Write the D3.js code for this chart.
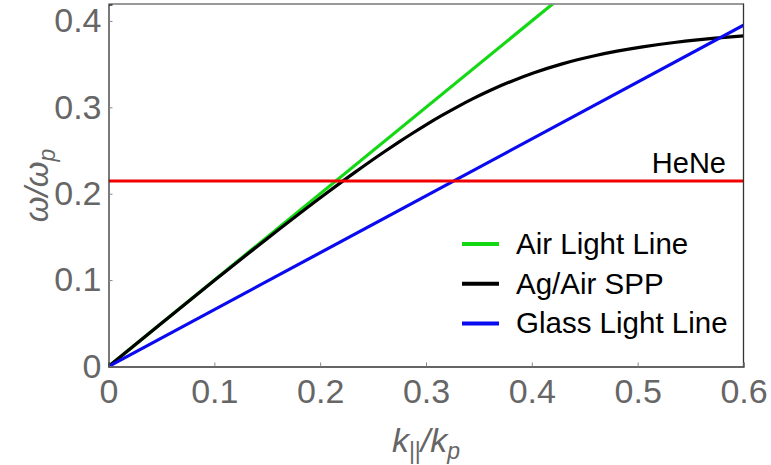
<!DOCTYPE html>
<html>
<head>
<meta charset="utf-8">
<script src="https://cdn.jsdelivr.net/npm/d3@7"></script>
<style>
  html, body { margin: 0; padding: 0; background: #fff; }
  svg { display: block; font-family: "Liberation Sans", Arial, sans-serif; }
</style>
</head>
<body>
<svg id="chart" width="771" height="465"></svg>
<script>
// Dispersion curves, frequency and wavevector in plasma units
const sppK = [0, 0.05006, 0.10053, 0.15195, 0.20523, 0.23312, 0.26238, 0.27462, 0.28727, 0.30043,
  0.31421, 0.32881, 0.34444, 0.36147, 0.38041, 0.40210, 0.42791, 0.44307, 0.46037, 0.48051,
  0.50463, 0.53454, 0.55648, 0.57339, 0.600];
const sppW = [0, 0.05, 0.10, 0.15, 0.20, 0.225, 0.25, 0.26, 0.27, 0.28,
  0.29, 0.30, 0.31, 0.32, 0.33, 0.34, 0.35, 0.355, 0.36, 0.365,
  0.37, 0.375, 0.378, 0.38, 0.3827];
const airK = [0, 0.6];
const airW = [0, 0.6];
const glassK = [0, 0.6];
const glassW = [0, 0.395];
const heneW = 0.2147;

const xTicks = [0, 0.1, 0.2, 0.3, 0.4, 0.5, 0.6];
const yTicks = [0, 0.1, 0.2, 0.3, 0.4];
const legendNames = ["Air Light Line", "Ag/Air SPP", "Glass Light Line"];
const legendColors = ["#14d814", "#000000", "#0a0af0"];

const svg = d3.select("#chart");
const pL = 108.5, pR = 743.5, pT = 4.5, pB = 366.5;
const x = d3.scaleLinear().domain([0, 0.6]).range([pL, pR]);
const y = d3.scaleLinear().domain([0, 0.419]).range([pB, pT]);

svg.append("defs").append("clipPath").attr("id", "plot")
  .append("rect").attr("x", pL).attr("y", pT)
  .attr("width", pR - pL).attr("height", pB - pT);

const plot = svg.append("g").attr("clip-path", "url(#plot)");
const line = d3.line().x(d => x(d[0])).y(d => y(d[1]));
const smooth = d3.line().x(d => x(d[0])).y(d => y(d[1])).curve(d3.curveMonotoneX);
const zip = (a, b) => a.map((v, i) => [v, b[i]]);

plot.append("path").datum(zip(airK, airW)).attr("d", line)
  .attr("fill", "none").attr("stroke", legendColors[0]).attr("stroke-width", 3.2);
plot.append("path").datum(zip(sppK, sppW)).attr("d", smooth)
  .attr("fill", "none").attr("stroke", legendColors[1]).attr("stroke-width", 3.2);
plot.append("path").datum(zip(glassK, glassW)).attr("d", line)
  .attr("fill", "none").attr("stroke", legendColors[2]).attr("stroke-width", 3.2);
plot.append("path").datum([[0, heneW], [0.6, heneW]]).attr("d", line)
  .attr("fill", "none").attr("stroke", "#f00000").attr("stroke-width", 3.2);

// Frame
svg.append("line").attr("x1", pL).attr("x2", pR).attr("y1", pT - 0.5).attr("y2", pT - 0.5)
  .attr("stroke", "#777").attr("stroke-width", 1.3);
svg.append("line").attr("x1", pR).attr("x2", pR).attr("y1", pT - 1).attr("y2", pB)
  .attr("stroke", "#333").attr("stroke-width", 1.3);

const tickColor = "#666666";
const xAxis = svg.append("g").attr("transform", `translate(0,${pB})`)
  .call(d3.axisBottom(x).tickValues(xTicks).tickSize(-4).tickPadding(12)
    .tickFormat(d => d === 0 ? "0" : d3.format(".1f")(d)));
xAxis.select(".domain").attr("stroke", "#333").attr("stroke-width", 1.3);
xAxis.selectAll(".tick line").attr("stroke", "#888");
xAxis.selectAll("text").attr("fill", tickColor).attr("font-size", 34)
  .attr("font-family", "'Liberation Sans', Arial, sans-serif");

const yAxis = svg.append("g").attr("transform", `translate(${pL},0)`)
  .call(d3.axisLeft(y).tickValues(yTicks).tickSize(-4).tickPadding(7)
    .tickFormat(d => d === 0 ? "0" : d3.format(".1f")(d)));
yAxis.select(".domain").attr("stroke", "#333").attr("stroke-width", 1.3);
yAxis.selectAll(".tick line").attr("stroke", "#888");
yAxis.selectAll("text").attr("fill", tickColor).attr("font-size", 34)
  .attr("font-family", "'Liberation Sans', Arial, sans-serif");

// Axis titles
const yTitle = svg.append("text")
  .attr("transform", `translate(48,${(pT + pB) / 2}) rotate(-90)`)
  .attr("text-anchor", "middle").attr("fill", tickColor)
  .attr("font-size", 33).attr("font-style", "italic");
yTitle.append("tspan").text("ω/ω");
yTitle.append("tspan").attr("font-size", 23).attr("dy", 7).text("p");

const xTitle = svg.append("text")
  .attr("x", x(0.3)).attr("y", 452)
  .attr("text-anchor", "middle").attr("fill", tickColor)
  .attr("font-size", 34).attr("font-style", "italic");
xTitle.append("tspan").text("k");
xTitle.append("tspan").attr("font-size", 23).attr("dy", 7).attr("font-style", "normal").text("||");
xTitle.append("tspan").attr("dy", -7).text("/k");
xTitle.append("tspan").attr("font-size", 23).attr("dy", 7).text("p");

// HeNe label
svg.append("text").attr("x", 726).attr("y", y(heneW) - 8)
  .attr("text-anchor", "end").attr("font-size", 29).attr("fill", "#000").text("HeNe");

// Legend
const legend = svg.append("g");
legendNames.forEach((name, i) => {
  const cy = 244 + i * 39.7;
  legend.append("line").attr("x1", 462).attr("x2", 499).attr("y1", cy).attr("y2", cy)
    .attr("stroke", legendColors[i]).attr("stroke-width", 4);
  legend.append("text").attr("x", 516).attr("y", cy + 10)
    .attr("font-size", 29.5).attr("fill", "#000").text(name);
});
</script>
</body>
</html>
